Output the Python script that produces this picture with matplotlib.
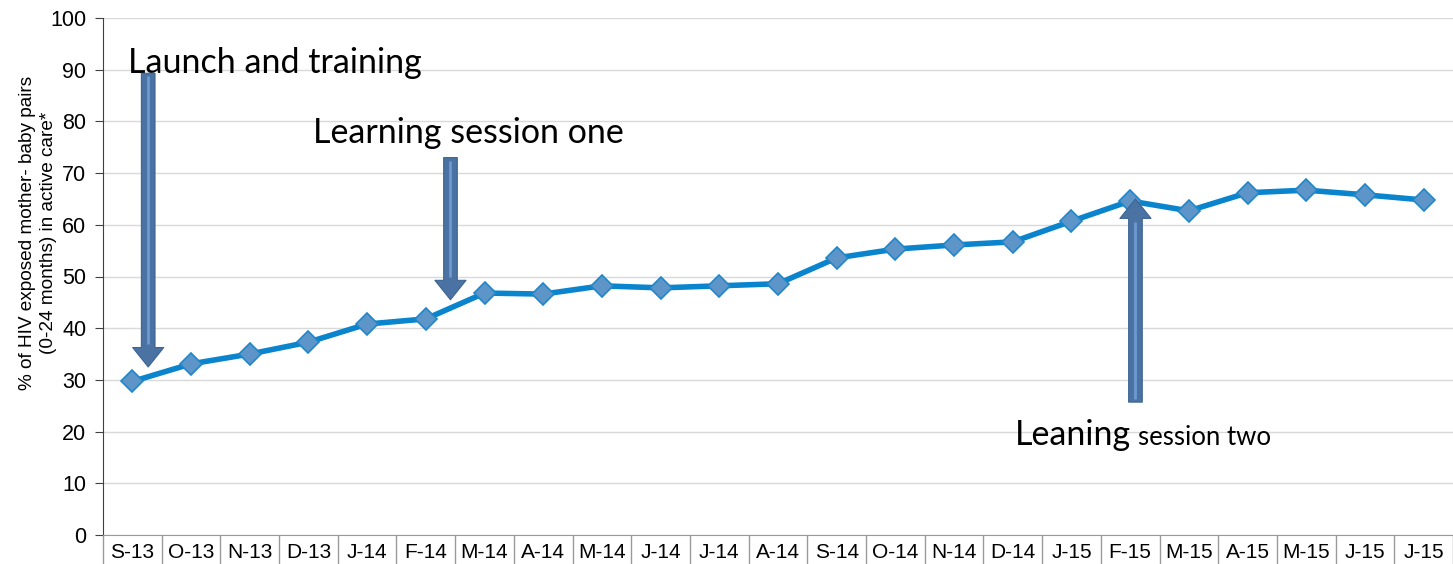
import matplotlib.pyplot as plt
import numpy as np

months = ["S-13", "O-13", "N-13", "D-13", "J-14", "F-14", "M-14", "A-14", "M-14",
          "J-14", "J-14", "A-14", "S-14", "O-14", "N-14", "D-14", "J-15", "F-15",
          "M-15", "A-15", "M-15", "J-15", "J-15"]
pct_active = [29.7, 33.1, 35.0, 37.3, 40.8, 41.8, 46.8, 46.6, 48.2, 47.8, 48.2, 48.6,
              53.6, 55.3, 56.1, 56.7, 60.7, 64.6, 62.7, 66.2, 66.7, 65.8, 64.8]

# annotation arrows: (x in category index, y start, y end)
arrows = [(0.27, 89.3, 32.5), (5.42, 73.0, 45.5), (17.09, 25.7, 65.0)]

fig = plt.figure(figsize=(14.53, 5.64), dpi=100)
ax = fig.add_axes([103 / 1453, 29 / 564, 1350 / 1453, 517 / 564])

x = np.arange(len(months))
ax.plot(x, pct_active, color="#0a84cc", lw=4, zorder=3,
        marker="D", ms=11, mfc="#5e95c9", mec="#1f86c9", mew=1.2)

for xa, y0, y1 in arrows:
    ax.annotate("", xy=(xa, y1), xytext=(xa, y0), zorder=4,
                arrowprops=dict(arrowstyle="simple,head_width=1.6,head_length=1.0,tail_width=0.7",
                                fc="#4a72a2", ec="#3d6593", lw=0.8, mutation_scale=14,
                                shrinkA=0, shrinkB=0))
    head = 4.5 if y1 < y0 else -4.5
    ax.plot([xa, xa], [y0 - np.sign(y0 - y1) * 0.6, y1 + head], color="#6f9ad0",
            lw=2, zorder=5, solid_capstyle="butt")

tfont = ["Lato", "DejaVu Sans"]
ax.text(-0.07, 91.2, "Launch and training", fontsize=24.5, family=tfont, va="center", ha="left")
ax.text(3.07, 77.8, "Learning session one", fontsize=24.5, family=tfont, va="center", ha="left")
ax.text(15.04, 17.5, "Leaning", fontsize=24.5, family=tfont, va="baseline", ha="left")
ax.text(17.14, 17.5, "session two", fontsize=18.5, family=tfont, va="baseline", ha="left")

ax.set_xlim(-0.5, len(months) - 0.5)
ax.set_ylim(0, 100)
ax.set_yticks(range(0, 101, 10))
ax.tick_params(axis="y", labelsize=15.5, length=6, color="#404040", pad=6)
ax.set_xticks(x)
ax.set_xticklabels(months, fontsize=15, family="Liberation Sans")
ax.tick_params(axis="x", which="major", length=0, pad=6)
ax.set_xticks(np.arange(-0.5, len(months), 1.0), minor=True)
ax.tick_params(axis="x", which="minor", length=30, color="#9a9a9a", width=1)
for lab in ax.get_yticklabels():
    lab.set_family("Liberation Sans")

ax.grid(axis="y", color="#d9d9d9", lw=1)
ax.set_axisbelow(True)
ax.spines["top"].set_visible(False)
ax.spines["right"].set_visible(False)
ax.spines["left"].set_color("#404040")
ax.spines["bottom"].set_color("#9a9a9a")
ax.set_ylabel("% of HIV exposed mother- baby pairs\n(0-24 months) in active care*",
              fontsize=13.7, family="Liberation Sans", linespacing=1.3)
ax.yaxis.set_label_coords(-0.034, 0.584)

fig.savefig("out.png", dpi=100)
